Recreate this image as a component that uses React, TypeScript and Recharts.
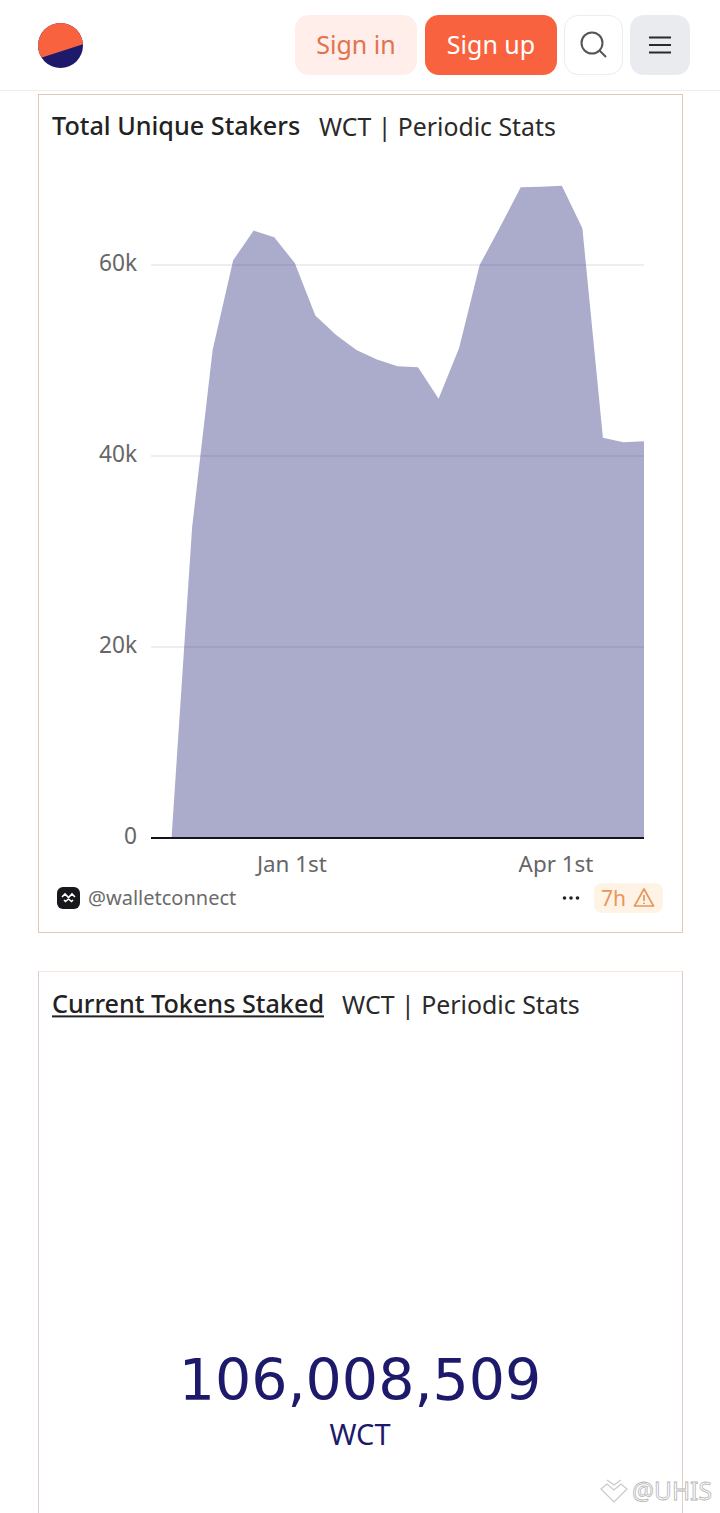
import { AreaChart, Area, XAxis, YAxis, CartesianGrid } from "recharts";

const dates = [
  "2024-11-14", "2024-11-21", "2024-11-28", "2024-12-05", "2024-12-12",
  "2024-12-19", "2024-12-26", "2025-01-02", "2025-01-09", "2025-01-16",
  "2025-01-23", "2025-01-30", "2025-02-06", "2025-02-13", "2025-02-20",
  "2025-02-27", "2025-03-06", "2025-03-13", "2025-03-20", "2025-03-27",
  "2025-04-03", "2025-04-10", "2025-04-17", "2025-04-24", "2025-05-01",
];
const stakers = [
  0, 0, 32500, 51100, 60500, 63600, 62900, 60200, 54700, 52700, 51100, 50100, 49400,
  49300, 46000, 51300, 60000, 64000, 68150, 68200, 68300, 63850, 41900, 41450, 41550,
];
const yTicks = [0, 20000, 40000, 60000];
const xTicks = ["2025-01-01", "2025-04-01"];
const xTickLabels = ["Jan 1st", "Apr 1st"];

const data = dates.map((d, i) => ({ t: Date.parse(d), stakers: stakers[i] }));
const FONT = "'Noto Sans', sans-serif";
const NAVY = "#1e1a6b";

function Txt({ x, y, size, color, children, weight, anchor, style, font }: any) {
  const tx = anchor === "middle" ? "translate(-50%,-50%)" : "translateY(-50%)";
  return (
    <div
      style={{
        position: "absolute",
        left: x,
        top: y,
        transform: tx,
        fontSize: size,
        color,
        fontWeight: weight ?? 400,
        fontFamily: font ?? FONT,
        whiteSpace: "nowrap",
        lineHeight: 1,
        ...style,
      }}
    >
      {children}
    </div>
  );
}

function Box({ x, y, w, h, bg, border, radius }: any) {
  return (
    <div
      style={{
        position: "absolute",
        left: x,
        top: y,
        width: w,
        height: h,
        background: bg,
        border,
        borderRadius: radius,
        boxSizing: "border-box",
      }}
    />
  );
}

function Header() {
  return (
    <>
      <svg style={{ position: "absolute", left: 37, top: 22 }} width={47} height={47} viewBox="0 0 47 47">
        <defs>
          <clipPath id="logoClip">
            <circle cx="23.5" cy="23.5" r="22.5" />
          </clipPath>
        </defs>
        <g clipPath="url(#logoClip)">
          <rect width="47" height="47" fill={NAVY} />
          <polygon points="0,0 47,0 47,22 0,37" fill="#f9623f" />
        </g>
      </svg>
      <Box x={295} y={15} w={122} h={60} bg="#ffeeea" radius={14} />
      <Txt x={356} y={44} size={25} color="#e2734f" anchor="middle">Sign in</Txt>
      <Box x={425} y={15} w={132} h={60} bg="#f9623f" radius={14} />
      <Txt x={491} y={44} size={25} color="#fff" anchor="middle">Sign up</Txt>
      <Box x={564} y={15} w={59} h={60} bg="#fff" border="1px solid #ececec" radius={14} />
      <svg style={{ position: "absolute", left: 578, top: 30 }} width={32} height={30} viewBox="0 0 32 30">
        <circle cx="14" cy="13" r="10.5" fill="none" stroke="#555" strokeWidth="2" />
        <line x1="21.5" y1="20.5" x2="28" y2="27" stroke="#555" strokeWidth="2" />
      </svg>
      <Box x={630} y={15} w={60} h={60} bg="#e9ebef" radius={14} />
      <svg style={{ position: "absolute", left: 648, top: 35 }} width={24} height={20} viewBox="0 0 24 20">
        <path d="M1 2.5H23M1 10H23M1 17.5H23" stroke="#2a2a2a" strokeWidth="2" />
      </svg>
      <Box x={0} y={90} w={720} h={1} bg="#eeeeee" />
    </>
  );
}

function StakersCard() {
  return (
    <>
      <Box x={38} y={94} w={645} h={839} bg="#fff" border="1px solid #e2c8b8" />
      <Txt x={52} y={126} size={25.2} color="#222" weight={500}>Total Unique Stakers</Txt>
      <Txt x={319} y={125.5} size={24.8} color="#2a2a2a">WCT | Periodic Stats</Txt>
      <div style={{ position: "absolute", left: 38, top: 150 }}>
        <AreaChart
          width={645}
          height={740}
          data={data}
          margin={{ top: 19.5, right: 39, left: 0, bottom: 0 }}
        >
          <CartesianGrid vertical={false} horizontalValues={yTicks} stroke="#e8e8ec" strokeWidth={1.5} />
          <XAxis
            dataKey="t"
            type="number"
            scale="time"
            domain={["dataMin", "dataMax"]}
            ticks={xTicks.map((d) => Date.parse(d))}
            tickFormatter={(v: number) => xTickLabels[xTicks.findIndex((d) => Date.parse(d) === v)]}
            tickLine={false}
            axisLine={{ stroke: "#14141c", strokeWidth: 2 }}
            height={52}
            tickMargin={12}
            tick={{ fontSize: 22.4, fill: "#666", fontFamily: FONT }}
          />
          <YAxis
            width={113}
            domain={[0, 70000]}
            ticks={yTicks}
            tickFormatter={(v: number) => (v === 0 ? "0" : `${v / 1000}k`)}
            tickLine={false}
            axisLine={false}
            tickMargin={8}
            tick={{ fontSize: 22.7, fill: "#666", fontFamily: FONT, dy: -2 }}
          />
          <Area
            type="linear"
            dataKey="stakers"
            stroke="none"
            fill="#1c1c72"
            fillOpacity={0.37}
            isAnimationActive={false}
          />
        </AreaChart>
      </div>
      <svg style={{ position: "absolute", left: 57, top: 887 }} width={23} height={22} viewBox="0 0 23 22">
        <rect width="23" height="22" rx="6" fill="#17171c" />
        <path d="M5 10l3-3 3.500 3.500L15 7l3 3M7 13l1.500 1.500L11.500 12l3 2.500L16 13" fill="none" stroke="#fff" strokeWidth="1.600" />
      </svg>
      <Txt x={88} y={898} size={20} color="#6b6b6b">@walletconnect</Txt>
      <svg style={{ position: "absolute", left: 561, top: 894 }} width={20} height={8} viewBox="0 0 20 8">
        <circle cx="3.500" cy="4" r="1.800" fill="#222" />
        <circle cx="10" cy="4" r="1.800" fill="#222" />
        <circle cx="16.500" cy="4" r="1.800" fill="#222" />
      </svg>
      <Box x={594} y={883} w={69} h={30} bg="#fff3e6" radius={8} />
      <Txt x={601} y={898} size={21} color="#e8955a">7h</Txt>
      <svg style={{ position: "absolute", left: 633, top: 887 }} width={22} height={21} viewBox="0 0 22 21">
        <path d="M11 2L20.500 19H1.500Z" fill="none" stroke="#e8955a" strokeWidth="1.700" strokeLinejoin="round" />
        <path d="M11 8v6M11 15.500v1.500" stroke="#e8955a" strokeWidth="1.700" />
      </svg>
    </>
  );
}

function TokensCard() {
  return (
    <>
      <Box x={38} y={971} w={645} h={560} bg="#fff" border="1px solid #ddd0c6" />
      <Box x={39} y={971} w={643} h={1} bg="#fbe6da" />
      <Txt x={52} y={1004} size={25.2} color="#222" weight={500} style={{ textDecoration: "underline" }}>
        Current Tokens Staked
      </Txt>
      <Txt x={342} y={1003.5} size={24.9} color="#2a2a2a">WCT | Periodic Stats</Txt>
      <Txt x={360} y={1380} size={57} color={NAVY} anchor="middle" font="'DejaVu Sans', sans-serif">
        106,008,509
      </Txt>
      <Txt x={360} y={1433} size={29} color={NAVY} anchor="middle">WCT</Txt>
    </>
  );
}

function Watermark() {
  return (
    <>
      <svg style={{ position: "absolute", left: 600, top: 1478 }} width={28} height={26} viewBox="0 0 28 26">
        <path d="M1 11l6-5 7 6 7-6 6 5-13 13Z M7 2l7 5 7-5" fill="none" stroke="#c9c9c9" strokeWidth="1.200" />
      </svg>
      <Txt
        x={632}
        y={1491}
        size={24.5}
        color="rgba(255,255,255,0.8)"
        style={{ WebkitTextStroke: "0.8px #b5b5b5" }}
      >
        @UHIS
      </Txt>
    </>
  );
}

export default function App() {
  return (
    <div
      style={{
        position: "absolute",
        left: 0,
        top: 0,
        width: 720,
        height: 1513,
        overflow: "hidden",
        background: "#fff",
      }}
    >
      <Header />
      <StakersCard />
      <TokensCard />
      <Watermark />
    </div>
  );
}
